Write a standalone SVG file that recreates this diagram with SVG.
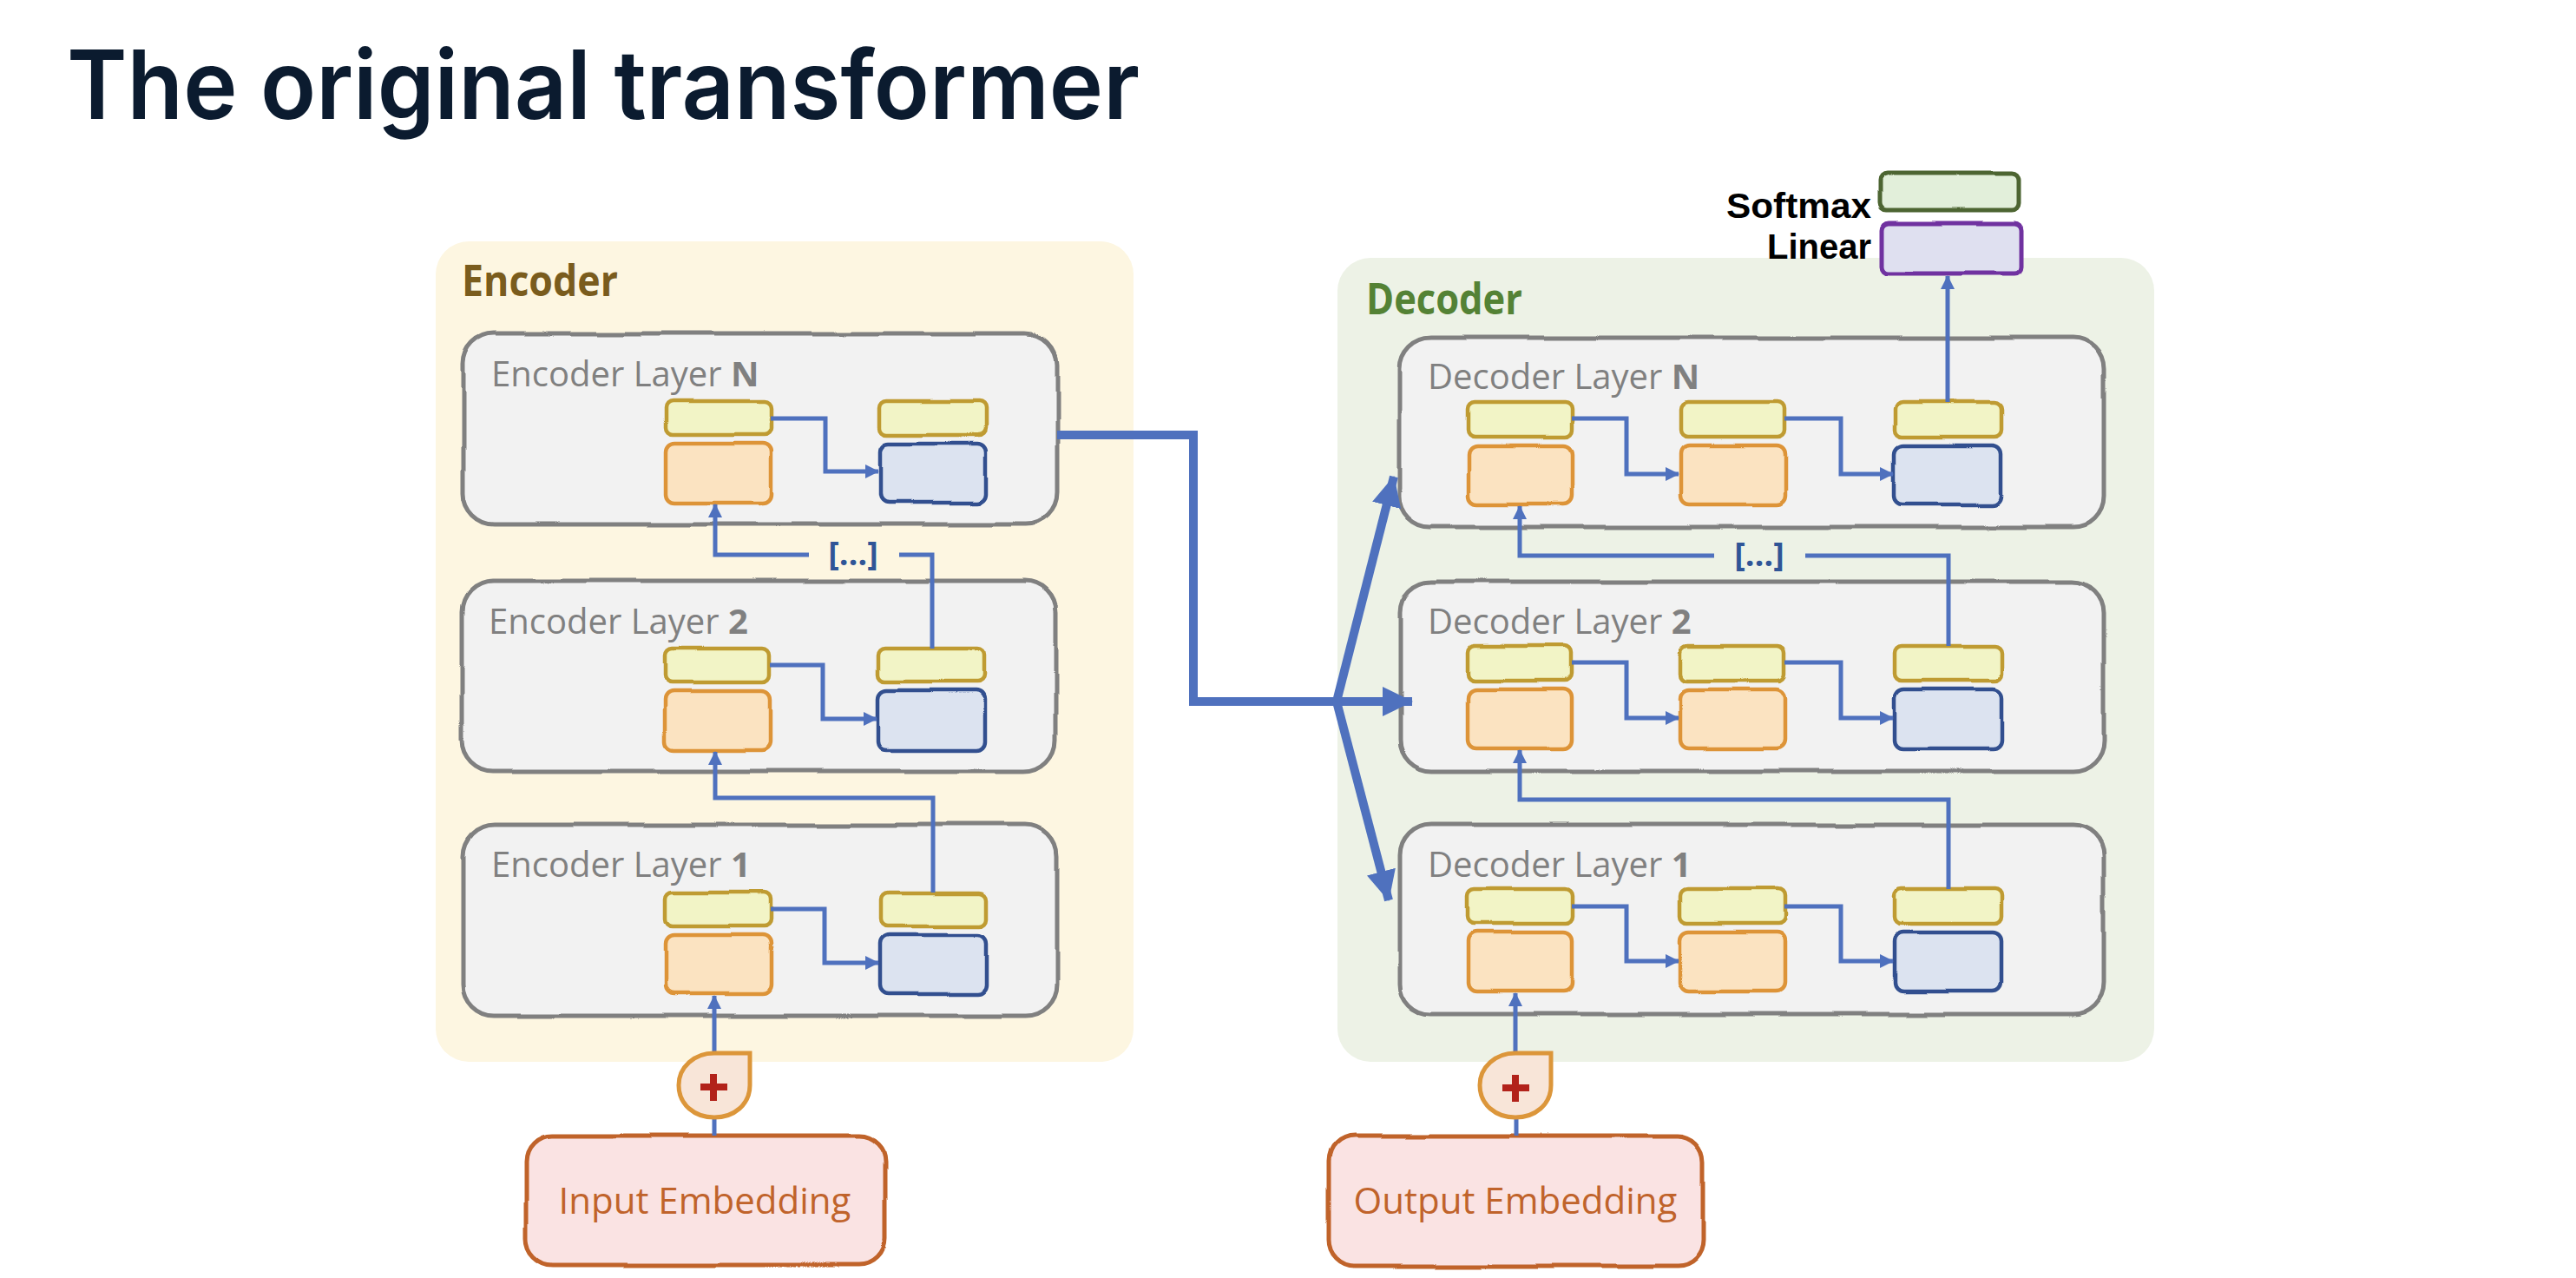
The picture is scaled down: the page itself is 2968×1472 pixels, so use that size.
<svg xmlns="http://www.w3.org/2000/svg" width="2968" height="1472" viewBox="0 0 2968 1472">
<style>
  .title{font-family:Inter,"Liberation Sans",sans-serif;font-weight:600;font-size:110px;fill:#0b1b2f}
  .grp{font-family:"Open Sans","Noto Sans",sans-serif;font-weight:700;font-size:50px}
  .lay{font-family:"Open Sans","Noto Sans",sans-serif;font-size:40px;fill:#808080}
  .lay tspan{font-weight:700}
  .layer{fill:#f2f2f2;stroke:#808080;stroke-width:5}
  .yel{fill:#f2f4c6;stroke:#bf9b30;stroke-width:4.5}
  .org{fill:#fbe3c1;stroke:#dd9438;stroke-width:4.5}
  .blu{fill:#dce3f0;stroke:#30508f;stroke-width:4.5}
  .conn{fill:none;stroke:#4f71be;stroke-width:5}
  .thick{fill:none;stroke:#4f71be;stroke-width:10;stroke-linejoin:miter}
  .dots{font-family:"Open Sans","Noto Sans",sans-serif;font-weight:700;font-size:38px;fill:#2f5597;text-anchor:middle}
  .emb{fill:#fae3e3;stroke:#c0632b;stroke-width:5}
  .embt{font-family:"Open Sans","Noto Sans",sans-serif;font-size:42px;fill:#c0632b;text-anchor:middle}
  .plus{fill:#f8e5d8;stroke:#dc963a;stroke-width:5}
  .plusign{fill:#b2221a}
  .out{font-family:"Liberation Sans",Arial,sans-serif;font-weight:700;font-size:41px;fill:#000;text-anchor:end}
  .rough{filter:url(#rough)}
</style>
<defs>
  <filter id="rough" x="-5%" y="-10%" width="110%" height="120%">
    <feTurbulence type="fractalNoise" baseFrequency="0.012" numOctaves="1" seed="4"/>
    <feDisplacementMap in="SourceGraphic" scale="7" xChannelSelector="R" yChannelSelector="G"/>
  </filter>
  <marker id="ah" markerUnits="userSpaceOnUse" markerWidth="16" markerHeight="16" refX="15" refY="8" orient="auto">
    <path d="M0,0 L16,8 L0,16 z" fill="#4f71be"/>
  </marker>
  <marker id="bh" markerUnits="userSpaceOnUse" markerWidth="36" markerHeight="34" refX="34" refY="17" orient="auto">
    <path d="M0,0 L35,17 L0,34 z" fill="#4f71be"/>
  </marker>
</defs>

<rect width="2968" height="1472" fill="#ffffff"/>
<text class="title" x="77" y="137" textLength="1236" lengthAdjust="spacingAndGlyphs">The original transformer</text>

<g id="encoder">
  <rect x="502" y="278" width="804" height="945" rx="38" fill="#fdf6e1"/>
  <text class="grp" x="532" y="341" fill="#7a5c1d" textLength="180" lengthAdjust="spacingAndGlyphs">Encoder</text>
</g>
<g id="decoder">
  <rect x="1541" y="297" width="941" height="926" rx="38" fill="#edf2e6"/>
  <text class="grp" x="1574" y="362" fill="#548235" textLength="180" lengthAdjust="spacingAndGlyphs">Decoder</text>
</g>

<!-- Encoder layers -->
<g id="enc-layer-N">
  <rect class="layer rough" x="534" y="384" width="684" height="220" rx="36"/>
  <text class="lay" x="566" y="445">Encoder Layer <tspan>N</tspan></text>
  <rect class="yel rough" x="767" y="462" width="121" height="39" rx="8"/>
  <rect class="org rough" x="767" y="511" width="121" height="68" rx="10"/>
  <rect class="yel rough" x="1014" y="462" width="122" height="39" rx="8"/>
  <rect class="blu rough" x="1014" y="511" width="122" height="68" rx="10"/>
</g>
<g id="enc-layer-2">
  <rect class="layer rough" x="532" y="669" width="684" height="219" rx="36"/>
  <text class="lay" x="563" y="730">Encoder Layer <tspan>2</tspan></text>
  <rect class="yel rough" x="766" y="747" width="121" height="39" rx="8"/>
  <rect class="org rough" x="766" y="796" width="121" height="68" rx="10"/>
  <rect class="yel rough" x="1012" y="747" width="122" height="39" rx="8"/>
  <rect class="blu rough" x="1012" y="796" width="122" height="68" rx="10"/>
</g>
<g id="enc-layer-1">
  <rect class="layer rough" x="534" y="950" width="684" height="220" rx="36"/>
  <text class="lay" x="566" y="1010">Encoder Layer <tspan>1</tspan></text>
  <rect class="yel rough" x="767" y="1028" width="121" height="39" rx="8"/>
  <rect class="org rough" x="767" y="1077" width="121" height="68" rx="10"/>
  <rect class="yel rough" x="1014" y="1028" width="122" height="39" rx="8"/>
  <rect class="blu rough" x="1014" y="1077" width="122" height="68" rx="10"/>
</g>

<!-- Decoder layers -->
<g id="dec-layer-N">
  <rect class="layer rough" x="1613" y="389" width="811" height="218" rx="36"/>
  <text class="lay" x="1645" y="448">Decoder Layer <tspan>N</tspan></text>
  <rect class="yel rough" x="1691" y="463" width="120" height="40" rx="8"/>
  <rect class="org rough" x="1691" y="513" width="120" height="68" rx="10"/>
  <rect class="yel rough" x="1936" y="463" width="120" height="40" rx="8"/>
  <rect class="org rough" x="1936" y="513" width="120" height="68" rx="10"/>
  <rect class="yel rough" x="2183" y="463" width="123" height="40" rx="8"/>
  <rect class="blu rough" x="2183" y="513" width="123" height="68" rx="10"/>
</g>
<g id="dec-layer-2">
  <rect class="layer rough" x="1613" y="670" width="811" height="218" rx="36"/>
  <text class="lay" x="1645" y="730">Decoder Layer <tspan>2</tspan></text>
  <rect class="yel rough" x="1691" y="744" width="120" height="40" rx="8"/>
  <rect class="org rough" x="1691" y="794" width="120" height="68" rx="10"/>
  <rect class="yel rough" x="1936" y="744" width="120" height="40" rx="8"/>
  <rect class="org rough" x="1936" y="794" width="120" height="68" rx="10"/>
  <rect class="yel rough" x="2183" y="744" width="123" height="40" rx="8"/>
  <rect class="blu rough" x="2183" y="794" width="123" height="68" rx="10"/>
</g>
<g id="dec-layer-1">
  <rect class="layer rough" x="1613" y="950" width="811" height="218" rx="36"/>
  <text class="lay" x="1645" y="1010">Decoder Layer <tspan>1</tspan></text>
  <rect class="yel rough" x="1691" y="1024" width="120" height="40" rx="8"/>
  <rect class="org rough" x="1691" y="1074" width="120" height="68" rx="10"/>
  <rect class="yel rough" x="1936" y="1024" width="120" height="40" rx="8"/>
  <rect class="org rough" x="1936" y="1074" width="120" height="68" rx="10"/>
  <rect class="yel rough" x="2183" y="1024" width="123" height="40" rx="8"/>
  <rect class="blu rough" x="2183" y="1074" width="123" height="68" rx="10"/>
</g>

<g id="softmax">
  <rect x="2165" y="200" width="161" height="42" rx="8" fill="#e2efda" stroke="#4d6530" stroke-width="5" class="rough"/>
  <text class="out" x="2156" y="251" textLength="167" lengthAdjust="spacingAndGlyphs">Softmax</text>
</g>
<g id="linear">
  <rect x="2168" y="257" width="161" height="58" rx="8" fill="#dfe0f0" stroke="#7030a0" stroke-width="5" class="rough"/>
  <text class="out" x="2156" y="298" textLength="120" lengthAdjust="spacingAndGlyphs">Linear</text>
</g>

<g id="input-embedding">
  <rect class="emb rough" x="606" y="1308" width="414" height="149" rx="30"/>
  <text class="embt" x="812" y="1398">Input Embedding</text>
</g>
<g id="output-embedding">
  <rect class="emb rough" x="1530" y="1308" width="433" height="150" rx="30"/>
  <text class="embt" x="1746" y="1398">Output Embedding</text>
</g>

<g id="connectors">
  <!-- encoder -->
  <path class="conn" d="M823,1308 V1287"/>
  <path class="conn" d="M823,1212 V1147" marker-end="url(#ah)"/>
  <path class="conn" d="M888,1047 H950 V1109 H1012" marker-end="url(#ah)"/>
  <path class="conn" d="M1075,1028 V919 H824 V866" marker-end="url(#ah)"/>
  <path class="conn" d="M887,766 H948 V828 H1010" marker-end="url(#ah)"/>
  <path class="conn" d="M1074,747 V639 H1036"/>
  <path class="conn" d="M932,639 H824 V581" marker-end="url(#ah)"/>
  <path class="conn" d="M888,482 H951 V543 H1012" marker-end="url(#ah)"/>
  <text class="dots" x="983" y="651">[…]</text>
  <!-- decoder -->
  <path class="conn" d="M1747,1308 V1287"/>
  <path class="conn" d="M1746,1212 V1144" marker-end="url(#ah)"/>
  <path class="conn" d="M1811,1044 H1874 V1107 H1934" marker-end="url(#ah)"/>
  <path class="conn" d="M2056,1044 H2121 V1107 H2181" marker-end="url(#ah)"/>
  <path class="conn" d="M2245,1024 V921 H1751 V864" marker-end="url(#ah)"/>
  <path class="conn" d="M1811,763 H1874 V827 H1934" marker-end="url(#ah)"/>
  <path class="conn" d="M2056,763 H2121 V827 H2181" marker-end="url(#ah)"/>
  <path class="conn" d="M2245,744 V640 H2080"/>
  <path class="conn" d="M1975,640 H1751 V583" marker-end="url(#ah)"/>
  <path class="conn" d="M1811,482 H1874 V546 H1934" marker-end="url(#ah)"/>
  <path class="conn" d="M2056,482 H2121 V546 H2181" marker-end="url(#ah)"/>
  <path class="conn" d="M2244,463 V318" marker-end="url(#ah)"/>
  <text class="dots" x="2027" y="652">[…]</text>
  <!-- encoder to decoder -->
  <path class="thick" d="M1218,501 H1375 V808 H1545"/>
  <path class="thick" d="M1540,808 L1606,549" marker-end="url(#bh)"/>
  <path class="thick" d="M1540,808 L1627,808" marker-end="url(#bh)"/>
  <path class="thick" d="M1540,808 L1600,1037" marker-end="url(#bh)"/>
</g>

<g id="plus-enc">
  <path class="plus" d="M823,1213 L864,1213 L864,1250 C864,1272 846,1287 823,1287 C800,1287 782,1272 782,1250 C782,1229 800,1213 823,1213 Z"/>
  <rect class="plusign" x="807" y="1248" width="31" height="8"/>
  <rect class="plusign" x="818" y="1237" width="8" height="31"/>
</g>
<g id="plus-dec">
  <path class="plus" d="M1746,1213 L1787,1213 L1787,1250 C1787,1272 1769,1287 1746,1287 C1723,1287 1705,1272 1705,1250 C1705,1229 1723,1213 1746,1213 Z"/>
  <rect class="plusign" x="1731" y="1249" width="31" height="8"/>
  <rect class="plusign" x="1742" y="1238" width="8" height="31"/>
</g>
</svg>
